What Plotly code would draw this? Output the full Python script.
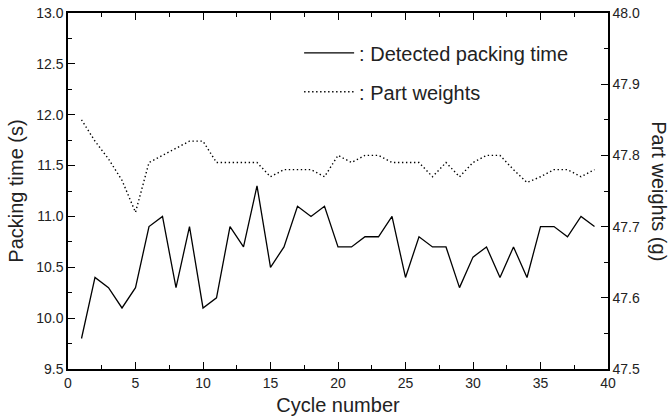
import plotly.graph_objects as go

cycles = list(range(1, 40))
packing_time = [9.8, 10.4, 10.3, 10.1, 10.3, 10.9, 11.0, 10.3, 10.9, 10.1,
                10.2, 10.9, 10.7, 11.3, 10.5, 10.7, 11.1, 11.0, 11.1, 10.7,
                10.7, 10.8, 10.8, 11.0, 10.4, 10.8, 10.7, 10.7, 10.3, 10.6,
                10.7, 10.4, 10.7, 10.4, 10.9, 10.9, 10.8, 11.0, 10.9]
part_weights = [47.85, 47.82, 47.795, 47.765, 47.72, 47.79, 47.80, 47.81, 47.82, 47.82,
                47.79, 47.79, 47.79, 47.79, 47.77, 47.78, 47.78, 47.78, 47.77, 47.80,
                47.79, 47.80, 47.80, 47.79, 47.79, 47.79, 47.77, 47.79, 47.77, 47.79,
                47.80, 47.80, 47.78, 47.762, 47.77, 47.78, 47.78, 47.77, 47.78]

FONT = "Liberation Sans, Arial, sans-serif"
INK = "#222"

fig = go.Figure()
fig.add_trace(go.Scatter(x=cycles, y=packing_time, mode="lines",
                         name=": Detected packing time", legendgroup="a",
                         line=dict(color="black", width=1.3)))
fig.add_trace(go.Scatter(x=cycles, y=part_weights, mode="lines", yaxis="y2",
                         name=": Part weights", legendgroup="b",
                         line=dict(color="black", width=1.4, dash="1.4px,2.6px")))

axis_common = dict(showline=True, linecolor="black", linewidth=1.5,
                   ticks="inside", ticklen=7, tickwidth=1.2, tickcolor="black",
                   showgrid=False, zeroline=False, automargin=False,
                   tickfont=dict(family=FONT, size=14, color=INK))

fig.update_layout(
    width=672, height=416,
    margin=dict(l=68, r=64, t=13, b=47, autoexpand=False),
    paper_bgcolor="white", plot_bgcolor="white",
    font=dict(family=FONT, color=INK),
    showlegend=True,
    legend=dict(x=0.428, y=0.943, xanchor="left", yanchor="top",
                bgcolor="rgba(0,0,0,0)", font=dict(family=FONT, size=20, color=INK),
                itemwidth=50, tracegroupgap=10, traceorder="grouped"),
    xaxis=dict(range=[0, 40], dtick=5, tick0=0, mirror="ticks",
               minor=dict(dtick=2.5, ticks="inside", ticklen=4, tickcolor="black", tickwidth=1.2),
               title=dict(text="Cycle number", font=dict(family=FONT, size=20, color=INK), standoff=13),
               **axis_common),
    yaxis=dict(range=[9.5, 13.0], dtick=0.5, tick0=9.5, tickformat=".1f",
               minor=dict(dtick=0.25, ticks="inside", ticklen=4, tickcolor="black", tickwidth=1.2),
               title=dict(text="Packing time (s)", font=dict(family=FONT, size=20, color=INK), standoff=7),
               **axis_common),
    yaxis2=dict(range=[47.5, 48.0], dtick=0.1, tick0=47.5, tickformat=".1f",
                overlaying="y", side="right",
                minor=dict(dtick=0.05, ticks="inside", ticklen=4, tickcolor="black", tickwidth=1.2),
                **axis_common),
    annotations=[dict(text="Part weights (g)", xref="paper", yref="paper",
                      x=1.094, y=0.5, xanchor="center", yanchor="middle",
                      textangle=90, showarrow=False,
                      font=dict(family=FONT, size=20, color=INK))],
)

fig.write_html("out.html")
